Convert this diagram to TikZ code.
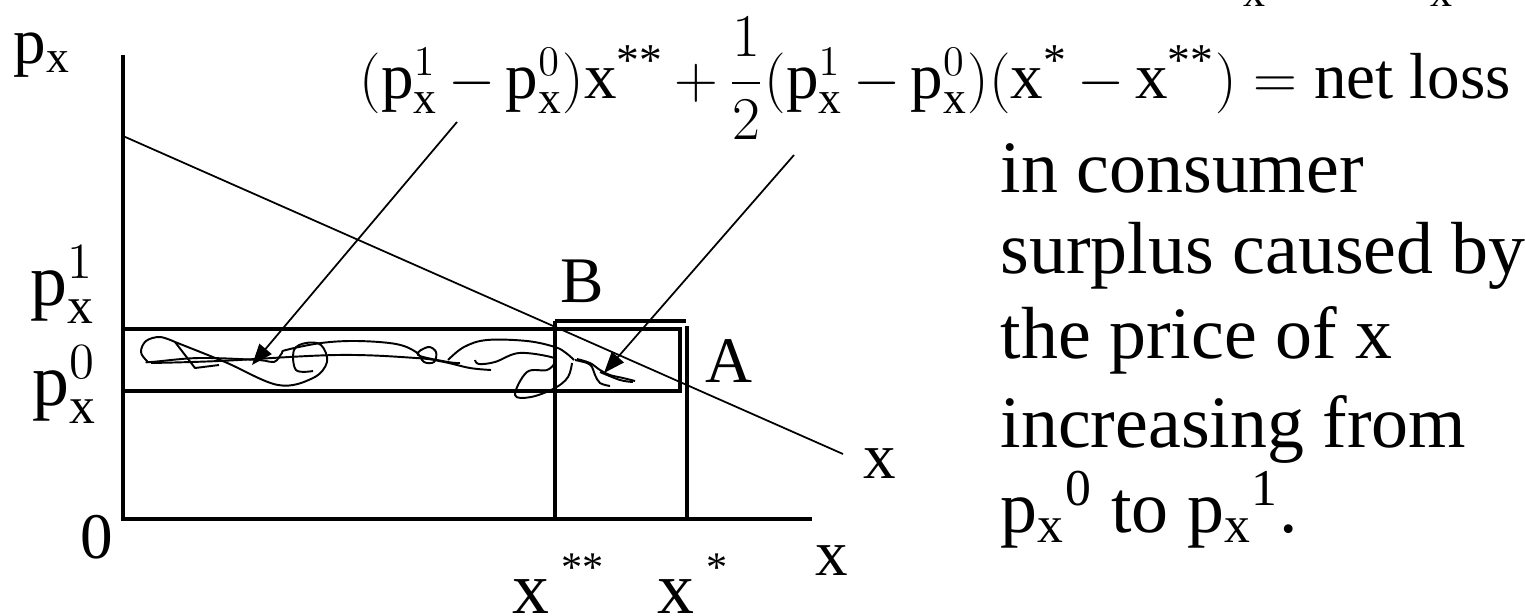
\documentclass[tikz,border=0pt]{standalone}
\usepackage{amsmath}
\usepackage{fontspec}
\setmainfont{Liberation Serif}
\usetikzlibrary{arrows.meta}

\newcommand{\pp}{\mathrm{p}}
\newcommand{\xx}{\mathrm{x}}

\begin{document}
\begin{tikzpicture}[x=0.01cm, y=-0.01cm,
  lbl/.style={inner sep=0pt, anchor=base west, font=\fontsize{18.5}{22}\selectfont},
  big/.style={lbl, font=\fontsize{21}{24}\selectfont},
  tiny/.style={lbl, font=\fontsize{12.5}{15}\selectfont},
  axis/.style={line width=1.2pt},
  box/.style={line width=1pt},
  dmd/.style={line width=0.5pt},
  scrib/.style={line width=0.55pt, line join=round},
  arr/.style={-{Triangle[length=6pt, width=4.5pt]}, line width=0.5pt}
]
\useasboundingbox (0,0) rectangle (1525,615);

%% axes and demand curve
\draw[axis] (123,55) -- (123,519) -- (812,519);
\draw[dmd] (123,136) -- (843,454);

%% price rectangles
\draw[box] (123,329) -- (680,329) -- (680,391) -- (123,391);
\draw[box] (555,321) -- (686,321);
\draw[box] (555,321) -- (555,519);
\draw[box] (687,326) -- (687,519);

%% scribble over the loss area
\draw[scrib] plot[smooth, tension=0.6] coordinates {(175,342) (160,337) (146,341) (141,352) (147,361) (151,362) (199,358) (258,360) (274,362) (282,353) (286,350) (321,343) (357,341) (396,344) (416,352) (424,362) (434,362) (436,352) (428,347) (418,355) (448,362) (460,363)};
\draw[scrib] plot[smooth, tension=0.6] coordinates {(151,363) (219,361) (337,355) (416,358) (444,362) (470,368) (491,370)};
\draw[scrib] (175,342) -- (195,368) -- (219,365);
\draw[scrib] plot[smooth, tension=0.6] coordinates {(175,342) (225,362) (278,385) (313,378) (327,362) (321,345) (306,343) (294,350) (296,370) (313,371)};
\draw[scrib] plot[smooth, tension=0.6] coordinates {(448,360) (464,347) (487,340) (527,341) (555,347) (566,353) (574,360)};
\draw[scrib] plot[smooth, tension=0.6] coordinates {(475,360) (479,364) (495,362) (519,353) (551,357) (555,362) (547,370) (527,372) (515,395) (531,397) (555,388) (568,377) (572,363)};
\draw[scrib] plot[smooth, tension=0.6] coordinates {(575,360) (587,363) (592,367) (595,375) (600,383) (610,386)};
\draw[scrib] plot[smooth, tension=0.6] coordinates {(577,359) (590,363) (600,370) (610,375) (623,378) (635,381)};
\draw[scrib] plot[smooth, tension=0.6] coordinates {(600,372) (620,380) (633,382)};

%% axis labels
\node[lbl] (py)   at (13,63)   {$\pp_\xx$};
\node[big] (pone) at (30,305)  {$\pp_\xx^1$};
\node[big] (pzer) at (32,405)  {$\pp_\xx^0$};
\node[lbl] (orig) at (80,558)  {0};
\node[lbl] (xax)  at (815,575) {x};
\node[lbl] (dlab) at (863,478) {x};
\node[lbl] (bB)   at (560,302) {B};
\node[lbl] (aA)   at (705,382) {A};
\node[big] (xss)  at (512,613) {x\hspace{3.4pt}\raisebox{9pt}{\fontsize{12}{12}\selectfont **}};
\node[big] (xs)   at (657,613) {x\hspace{3.4pt}\raisebox{9pt}{\fontsize{12}{12}\selectfont *}};

%% cut-off text at the top
\node[tiny] (cuta) at (1243,7) {x};
\node[tiny] (cutb) at (1430,7) {x};

%% formula and text
\node[lbl] (loss) at (359,98) {\medmuskip=3mu $(\pp_\xx^1-\pp_\xx^0)\xx^{\text{**}}+\dfrac{1}{2}(\pp_\xx^{1}-\pp_\xx^{0})(\xx^{\text{*}}-\xx^{\text{**}})=\text{net loss}$};
\node[big] (ln1) at (1000,192) {in consumer};
\node[big] (ln2) at (1000,273) {surplus caused by};
\node[big] (ln3) at (1000,358) {the price of x};
\node[big] (ln4) at (1000,447) {increasing from};
\node[big] (ln5) at (1000,532) {p\textsubscript{x}\textsuperscript{0} to p\textsubscript{x}\textsuperscript{1}.};

%% pointers
\coordinate (tailL) at (457,122);
\coordinate (tipL)  at (252,365);
\coordinate (tailR) at (794,155);
\coordinate (tipR)  at (604,373);
\draw[arr] (tailL) -- (tipL);
\draw[arr] (tailR) -- (tipR);

\end{tikzpicture}
\end{document}
